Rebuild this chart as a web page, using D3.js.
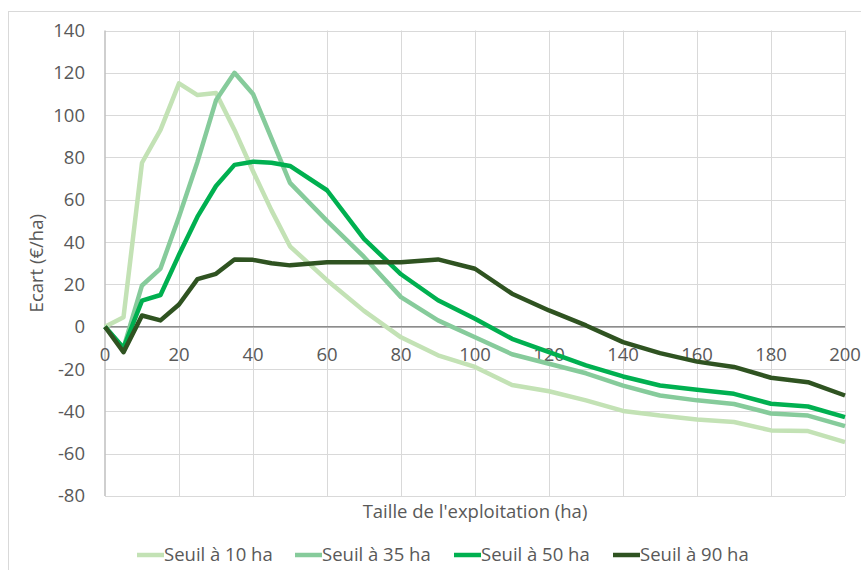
<!DOCTYPE html>
<html><head><meta charset="utf-8">
<script src="https://cdn.jsdelivr.net/npm/d3@7"></script>
<style>body{margin:0;background:#fff;} text{font-family:"Open Sans",sans-serif;fill:#595959;}</style>
</head><body>
<svg id="c" width="861" height="570"></svg>
<script>
const xValues = [0,5,10,15,20,25,30,35,40,45,50,60,70,80,90,100,110,120,130,140,150,160,170,180,190,200];
const seuil10 = [0,4.5,77.5,93,115,109.5,110.5,93,73.5,55,38,22,7.5,-5,-13.5,-19,-27.5,-30.5,-34.8,-39.8,-42,-43.8,-45,-49,-49.3,-54.5];
const seuil35 = [0,-10,19.5,27.5,52,78,107,120,110,89,68,50,33,14,3,-5,-13,-17.5,-22,-27.8,-32.5,-34.8,-36.5,-41,-42,-47];
const seuil50 = [0,-10,12.3,15,34,52,66.5,76.5,78,77.5,76,64.5,41.5,24.8,12.5,3.8,-5.7,-12,-18.3,-23.5,-27.8,-29.8,-31.7,-36.4,-37.7,-42.7];
const seuil90 = [0,-12,5.3,3,10.5,22.5,25,31.8,31.6,30,29,30.5,30.5,30.5,31.8,27.4,15.6,7.7,0.6,-7.3,-12.5,-16.5,-19,-24.1,-26.2,-32.5];
const seriesNames = ["Seuil à 10 ha","Seuil à 35 ha","Seuil à 50 ha","Seuil à 90 ha"];
const seriesColors = ["#c3e2b5","#86cb9b","#00b050","#2f5321"];
const xTicks = [0,20,40,60,80,100,120,140,160,180,200];
const yTicks = [-80,-60,-40,-20,0,20,40,60,80,100,120,140];
const xTitle = "Taille de l'exploitation (ha)";
const yTitle = "Ecart (€/ha)";

const svg = d3.select("#c");
const fs = 18.5;
// chart border
svg.append("rect").attr("x",8.5).attr("y",11.5).attr("width",900).attr("height",600)
  .attr("fill","none").attr("stroke","#d9d9d9").attr("stroke-width",1);

const x = d3.scaleLinear().domain([0,200]).range([105,845]);
const y = d3.scaleLinear().domain([-80,140]).range([496,30.5]);

// gridlines
svg.append("g").selectAll("line").data(yTicks).join("line")
  .attr("x1",x(0)).attr("x2",x(200)).attr("y1",d=>Math.round(y(d))+0.5).attr("y2",d=>Math.round(y(d))+0.5)
  .attr("stroke","#d9d9d9").attr("stroke-width",1);
svg.append("g").selectAll("line").data(xTicks.slice(1)).join("line")
  .attr("x1",d=>Math.round(x(d))+0.5).attr("x2",d=>Math.round(x(d))+0.5).attr("y1",y(140)).attr("y2",y(-80))
  .attr("stroke","#d9d9d9").attr("stroke-width",1);
// left axis line
svg.append("line").attr("x1",x(0)).attr("x2",x(0)).attr("y1",y(140)).attr("y2",y(-80))
  .attr("stroke","#bfbfbf").attr("stroke-width",1.5);
// zero line
svg.append("line").attr("x1",x(0)).attr("x2",x(200)).attr("y1",y(0)).attr("y2",y(0))
  .attr("stroke","#8c8c8c").attr("stroke-width",1.5);

// y tick labels
svg.append("g").selectAll("text").data(yTicks).join("text")
  .attr("x",85).attr("y",d=>y(d)).attr("dy","0.35em").attr("text-anchor","end")
  .attr("font-size",fs).text(d=>d);
// x tick labels
svg.append("g").selectAll("text").data(xTicks).join("text")
  .attr("x",d=>x(d)).attr("y",y(0)+28).attr("dy","0.35em").attr("text-anchor","middle")
  .attr("font-size",fs).text(d=>d);

// titles
svg.append("text").attr("x",(x(0)+x(200))/2).attr("y",512).attr("dy","0.35em").attr("text-anchor","middle")
  .attr("font-size",fs).text(xTitle);
svg.append("text").attr("transform",`translate(37,${(y(140)+y(-80))/2}) rotate(-90)`).attr("dy","0.35em")
  .attr("text-anchor","middle").attr("font-size",fs).text(yTitle);

// lines
const allSeries = [seuil10,seuil35,seuil50,seuil90];
const line = d3.line().x((d,i)=>x(xValues[i])).y(d=>y(d));
allSeries.forEach((s,k)=>{
  svg.append("path").datum(s).attr("d",line).attr("fill","none")
    .attr("stroke",seriesColors[k]).attr("stroke-width",4.5).attr("stroke-linejoin","round").attr("stroke-linecap","butt");
});

// legend
const legendX = [137,295,454,613];
const lg = svg.append("g");
seriesNames.forEach((n,k)=>{
  lg.append("line").attr("x1",legendX[k]).attr("x2",legendX[k]+27).attr("y1",555).attr("y2",555)
    .attr("stroke",seriesColors[k]).attr("stroke-width",4.5);
  lg.append("text").attr("x",legendX[k]+27).attr("y",555).attr("dy","0.35em").attr("font-size",fs).text(n);
});
</script>
</body></html>
